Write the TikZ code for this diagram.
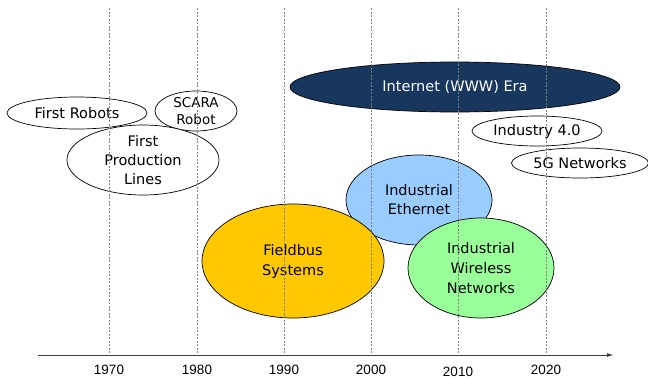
\documentclass[tikz,border=0pt]{standalone}
\usepackage{fontspec}
\setmainfont{DejaVu Sans}
\newfontfamily\yearfont{Liberation Sans}
\usetikzlibrary{shapes.geometric,arrows.meta}

\definecolor{navy}{HTML}{17375E}
\definecolor{gold}{HTML}{FFC800}
\definecolor{skyblue}{HTML}{99CCFF}
\definecolor{lightgreen}{HTML}{99FF99}

\begin{document}
\begin{tikzpicture}[x=1pt,y=-1pt,
  era/.style={ellipse,draw=black,line width=0.7pt,fill=white,inner sep=0pt,
    align=center,font=\fontsize{14.5}{19}\selectfont},
  grid line/.style={gray,line width=0.5pt,dash pattern=on 2pt off 1.5pt},
  year/.style={inner sep=0pt,font=\yearfont\fontsize{13.5}{15}\selectfont}]
\useasboundingbox (0,0) rectangle (648,378);
% eras, back to front
\node[era,minimum width=140pt,minimum height=32pt] (robots) at (77,113) {First Robots};
\node[era,minimum width=82pt,minimum height=40pt,font=\fontsize{13.5}{17}\selectfont] (scara) at (196,111) {SCARA\\Robot};
\node[era,minimum width=152pt,minimum height=70pt] (lines) at (143,160) {First\\Production\\Lines};
\node[era,fill=navy,text=white,minimum width=330pt,minimum height=50pt] (www) at (455,87) {Internet (WWW) Era};
\node[era,minimum width=130pt,minimum height=30pt] (i40) at (537,131) {Industry 4.0};
\node[era,minimum width=137pt,minimum height=30pt] (g5) at (580,163) {5G Networks};
\node[era,fill=skyblue,minimum width=146pt,minimum height=90pt] (ether) at (419,200) {Industrial\\Ethernet};
\node[era,fill=gold,minimum width=182pt,minimum height=114pt,font=\fontsize{14.5}{20}\selectfont] (fieldbus) at (293,261) {Fieldbus\\Systems};
\node[era,fill=lightgreen,minimum width=146pt,minimum height=100pt,font=\fontsize{14.5}{20}\selectfont] (wireless) at (481,268) {Industrial\\Wireless\\Networks};
% time axis
\coordinate (start) at (38,355);
\coordinate (end) at (614,355);
\draw[line width=1pt,black!75,-{Latex[length=7pt,width=4pt]}] (start) -- (end);
\foreach \yr/\x/\y in {1970/109/370,1980/197/370,1990/284/370,2000/371/370,2010/458/371.5,2020/546/370}{
  \coordinate (top\yr) at (\x,8);
  \coordinate (bot\yr) at (\x,353);
  \draw[grid line] (top\yr) -- (bot\yr);
  \node[year] (lbl\yr) at (\x,\y) {\yr};
}
\end{tikzpicture}
\end{document}
